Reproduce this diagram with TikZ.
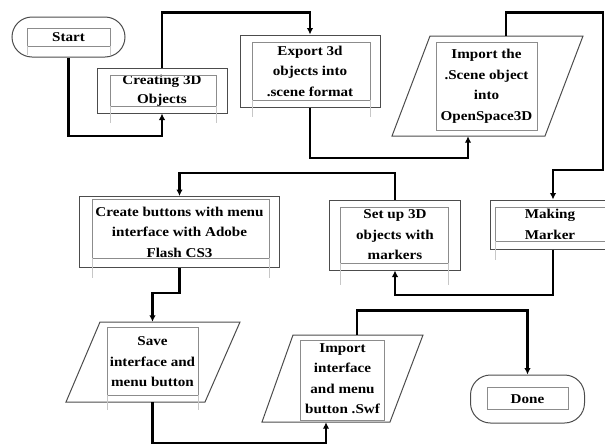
\documentclass[tikz,border=0pt]{standalone}
\usepackage{fontspec}
\setmainfont{Liberation Serif}[FakeStretch=1.12]
\usetikzlibrary{arrows.meta}
\begin{document}
\begin{tikzpicture}[x=1pt,y=-1pt,
  txt/.style={inner sep=0pt, align=center, font=\fontsize{13.5}{20.5}\selectfont\bfseries},
  box/.style={txt, draw=black!70, line width=1pt},
  term/.style={box, rounded corners=20pt},
  io/.style={txt},
  para/.style={draw=black!70, line width=1pt, line join=miter},
  innerbox/.style={draw=black!45, line width=0.6pt},
  faint/.style={draw=black!22, line width=0.6pt},
  flow/.style={draw=black, line width=2.2pt, -{Latex[length=6.5pt,width=6.5pt]}}
]
\useasboundingbox (0,0) rectangle (605,445);

% ---- nodes ----
\node[term, minimum width=113, minimum height=40] (start) at (68.5,37) {Start};
\node[box, minimum width=130, minimum height=45, font=\fontsize{13.5}{18.5}\selectfont\bfseries] (c3d) at (162,90.5) {Creating 3D\\Objects};
\node[box, minimum width=140, minimum height=72] (export) at (310,71) {Export 3d\\objects into\\.scene format};
\node[io, minimum width=101, minimum height=100] (imp1) at (486.5,86) {Import the\\.Scene object\\into\\OpenSpace3D};
\node[box, minimum width=120, minimum height=49] (making) at (550,224.5) {Making\\Marker};
\node[box, minimum width=131, minimum height=70] (setup) at (395,235) {Set up 3D\\objects with\\markers};
\node[box, minimum width=200, minimum height=71] (create) at (179.5,232) {Create buttons with menu\\interface with Adobe\\Flash CS3};
\node[io, minimum width=91, minimum height=80] (save) at (152.5,362) {Save\\interface and\\menu button};
\node[io, minimum width=85, minimum height=87] (imp2) at (342.5,378.5) {Import\\interface\\and menu\\button .Swf};
\node[term, minimum width=114, minimum height=48] (done) at (527.5,399) {Done};

% ---- parallelogram outlines ----
\draw[para] (430,36) -- (583,36) -- (545,136) -- (392,136) -- cycle;
\draw[para] (100,322) -- (240,322) -- (205,402) -- (66,402) -- cycle;
\draw[para] (293,335) -- (423,335) -- (390,422) -- (262,422) -- cycle;

% ---- inner frames ----
\draw[innerbox] (27,28) rectangle (110,46);
\draw[faint] (27,46) -- (27,55) (110,46) -- (110,55);
\draw[innerbox] (110,75) rectangle (216,106);
\draw[faint] (110,106) -- (110,123) (216,106) -- (216,123);
\draw[innerbox] (252,42) rectangle (370,100);
\draw[faint] (252,100) -- (252,117) (370,100) -- (370,117);
\draw[innerbox] (436,42) rectangle (537,130);
\draw[innerbox] (495,207) rectangle (615,241);
\draw[faint] (495,241) -- (495,260);
\draw[innerbox] (340,207) rectangle (448,263);
\draw[faint] (340,263) -- (340,285) (448,263) -- (448,285);
\draw[innerbox] (92,199) rectangle (269,258);
\draw[faint] (92,258) -- (92,278) (269,258) -- (269,278);
\draw[innerbox] (107,327) rectangle (198,395);
\draw[faint] (107,395) -- (107,410) (198,395) -- (198,410);
\draw[innerbox] (300,340) rectangle (384,420);
\draw[innerbox] (487,387) rectangle (568,409);

% ---- connectors ----
\draw[flow] (start.south) -- (68.5,136) -| (c3d.south);
\draw[flow] (c3d.north) -- (162,12.5) -| (export.north);
\draw[flow] (export.south) -- (310,158) -| (imp1.south -| 468,0);
\draw[flow] (imp1.north -| 506,0) -- (506,12.5) -- (603,12.5) -- (603,170) -| (making.north -| 553,0);
\draw[flow] (making.south -| 553,0) -- (553,295) -| (setup.south);
\draw[flow] (setup.north) -- (395,173) -| (create.north);
\draw[flow] (create.south) -- (179.5,293) -| (save.north);
\draw[flow] (save.south) -- (152.5,443) -| (imp2.south -| 326,0);
\draw[flow] (imp2.north -| 357,0) -- (357,310.5) -| (done.north);
\end{tikzpicture}
\end{document}
